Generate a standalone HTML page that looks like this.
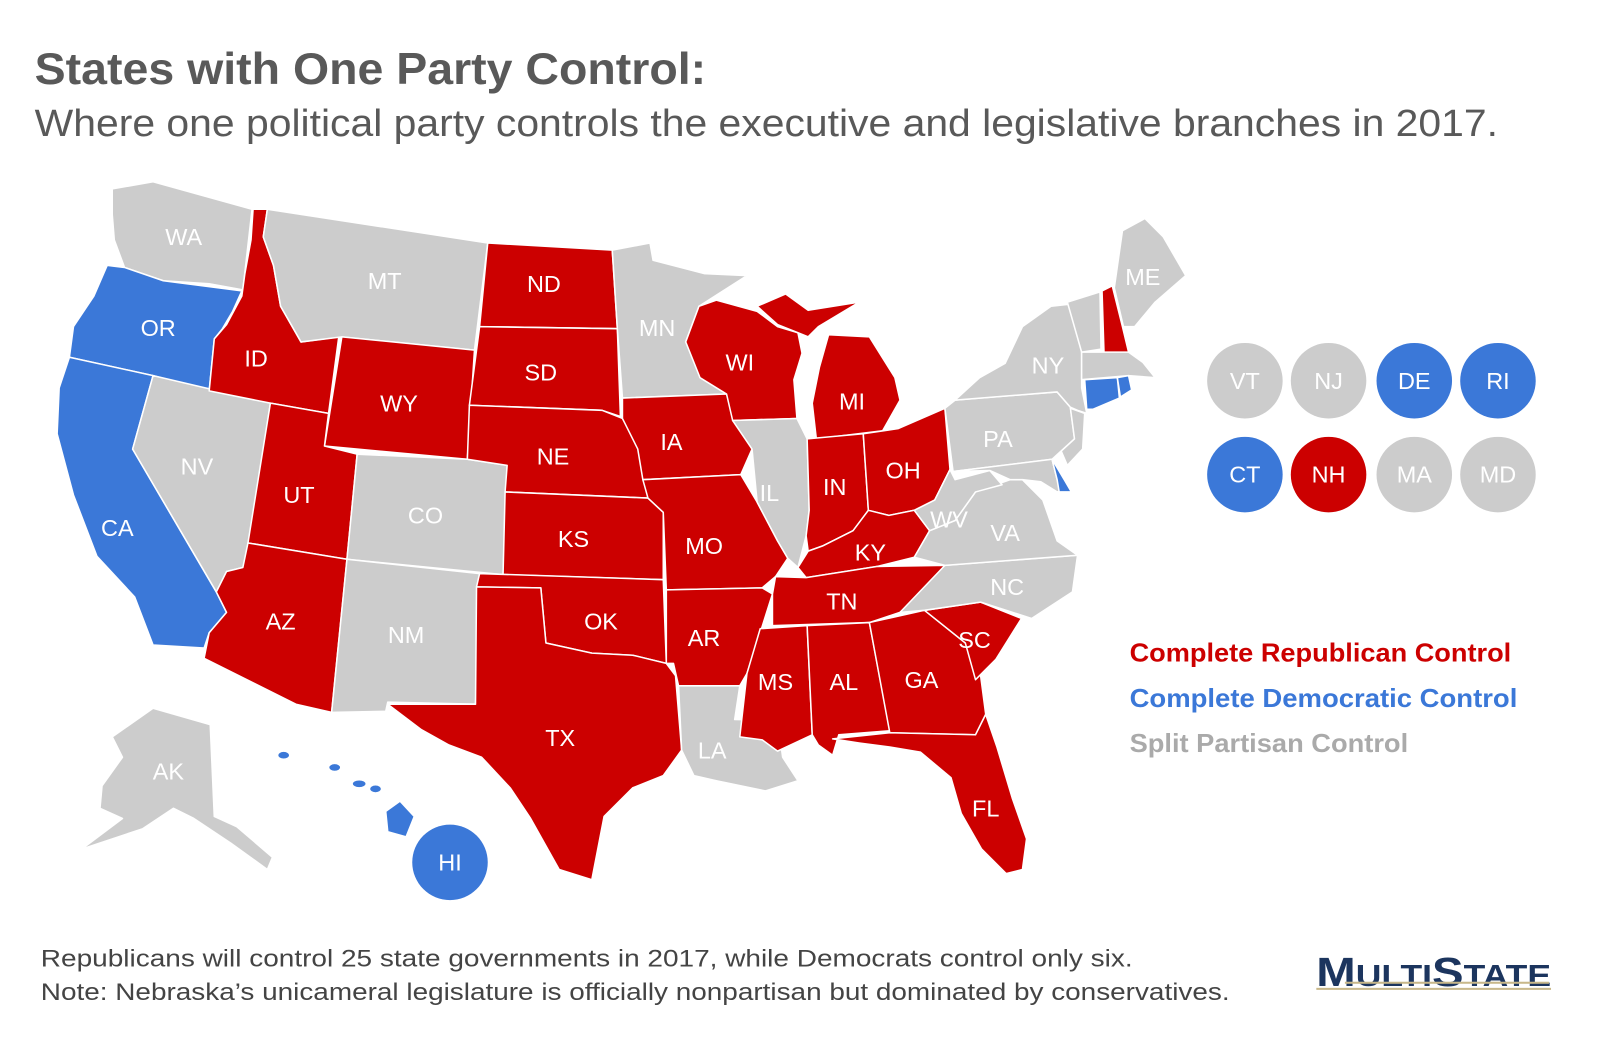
<!DOCTYPE html>
<html><head><meta charset="utf-8">
<style>
html,body{margin:0;padding:0;background:#fff;}
svg{display:block;}
text{font-family:"Liberation Sans",sans-serif;}
</style></head>
<body>
<svg id="map" width="1600" height="1040" viewBox="0 0 1568 1019" xmlns="http://www.w3.org/2000/svg">
<text x="34" y="82" font-size="44" font-weight="bold" fill="#595959" textLength="658" lengthAdjust="spacingAndGlyphs">States with One Party Control:</text>
<text x="34" y="133" font-size="37" fill="#595959" textLength="1434" lengthAdjust="spacingAndGlyphs">Where one political party controls the executive and legislative branches in 2017.</text>
<g id="states" stroke="#fff" stroke-width="1.5" stroke-linejoin="round"></g>
<g id="labels" fill="#fff" font-size="23" text-anchor="middle"></g>
<g id="circles"></g>
<text x="1107" y="648" font-size="25" font-weight="bold" fill="#cc0000" textLength="374" lengthAdjust="spacingAndGlyphs">Complete Republican Control</text>
<text x="1107" y="693" font-size="25" font-weight="bold" fill="#3b78d8" textLength="380" lengthAdjust="spacingAndGlyphs">Complete Democratic Control</text>
<text x="1107" y="737" font-size="25" font-weight="bold" fill="#aaaaaa" textLength="273" lengthAdjust="spacingAndGlyphs">Split Partisan Control</text>
<text x="40" y="947" font-size="24" fill="#444" textLength="1070" lengthAdjust="spacingAndGlyphs">Republicans will control 25 state governments in 2017, while Democrats control only six.</text>
<text x="40" y="980" font-size="24" fill="#444" textLength="1165" lengthAdjust="spacingAndGlyphs">Note: Nebraska’s unicameral legislature is officially nonpartisan but dominated by conservatives.</text>
<g>
<text x="1290" y="966" font-family="Liberation Serif,serif" font-weight="bold" fill="#1c355e" font-size="40" textLength="230" lengthAdjust="spacingAndGlyphs">M<tspan font-size="30">ULTI</tspan>S<tspan font-size="30">TATE</tspan></text>
<rect x="1318" y="962" width="200" height="2" fill="#c8b88a"/>
<rect x="1290" y="968" width="230" height="2" fill="#c8b88a"/>
</g>
</svg>
<script>
const codes=["WA","OR","CA","NV","ID","MT","WY","UT","CO","AZ","NM","ND","SD","NE","KS","OK","TX","MN","IA","MO","AR","LA","WI","IL","MI","IN","OH","KY","TN","MS","AL","GA","FL","SC","NC","VA","WV","PA","NY","NJ","MD","DE","VT","NH","ME","MA","CT","RI","AK","HI"];
const party=["S","D","D","S","R","S","R","R","S","R","S","R","R","R","R","R","R","S","R","R","R","S","R","S","R","R","R","R","R","R","R","R","R","R","S","S","S","S","S","S","S","D","S","R","S","S","D","D","S","D"];
const circleCodes=["VT","NJ","DE","RI","CT","NH","MA","MD"];
const circleParty=["S","S","D","D","D","R","S","S"];
const colors={R:"#cc0000",D:"#3b78d8",S:"#cccccc"};
const shapes={
WA:[[110,185],[150,178],[247,205],[238,284],[205,278],[160,275],[122,262],[112,235],[110,210]],
OR:[[122,262],[160,275],[237,285],[228,305],[218,322],[210,332],[205,383],[150,368],[68,350],[72,320],[92,290],[105,260]],
CA:[[68,350],[150,368],[130,440],[212,580],[222,600],[205,620],[200,635],[150,632],[132,585],[95,545],[72,485],[56,425],[58,380]],
NV:[[150,368],[265,395],[244,538],[238,556],[222,560],[212,580],[130,440]],
ID:[[248,205],[262,205],[258,232],[268,260],[275,300],[295,335],[332,330],[322,405],[265,395],[205,383],[210,332],[222,318],[237,290],[240,268],[246,235]],
MT:[[262,205],[478,238],[465,343],[335,330],[295,335],[275,300],[268,260],[258,232]],
WY:[[335,330],[465,343],[458,450],[318,437]],
UT:[[265,395],[322,405],[318,437],[350,445],[340,548],[243,532]],
CO:[[350,445],[458,450],[497,456],[493,563],[340,548]],
AZ:[[243,532],[340,548],[325,698],[290,690],[200,645],[205,620],[222,600],[212,580],[222,560],[238,556]],
NM:[[340,548],[470,562],[466,690],[380,688],[378,697],[325,698]],
ND:[[478,238],[600,245],[605,322],[470,320]],
SD:[[470,320],[605,322],[608,408],[590,402],[460,397]],
NE:[[460,397],[590,402],[610,410],[625,435],[635,488],[495,482],[497,456],[458,450]],
KS:[[495,482],[635,488],[650,502],[650,568],[493,563]],
OK:[[470,562],[650,568],[653,650],[620,642],[580,640],[535,630],[530,576],[467,575]],
TX:[[467,575],[530,576],[535,630],[580,640],[620,642],[653,650],[662,662],[668,735],[650,760],[620,772],[592,800],[580,862],[548,852],[520,802],[500,772],[472,742],[440,730],[413,715],[380,690],[466,690]],
MN:[[600,245],[637,238],[640,255],[690,268],[732,270],[685,300],[672,335],[682,350],[686,370],[712,386],[610,390],[605,322]],
IA:[[610,390],[712,386],[720,410],[737,440],[726,465],[630,470],[625,440],[610,410]],
MO:[[630,470],[726,465],[742,492],[762,530],[772,547],[760,565],[747,576],[653,578],[650,502],[635,488]],
AR:[[653,578],[747,576],[757,582],[745,620],[732,660],[725,672],[665,672],[660,650],[653,650]],
LA:[[665,672],[725,672],[720,705],[762,706],[767,742],[782,765],[750,775],[702,765],[680,760],[668,735]],
WI:[[685,300],[702,294],[742,305],[762,320],[782,326],[786,346],[778,372],[781,410],[718,412],[712,386],[686,370],[672,335]],
IL:[[718,412],[781,410],[791,430],[793,500],[790,525],[782,556],[772,547],[762,530],[742,492],[737,440]],
MI:[[742,300],[770,288],[792,304],[842,296],[802,320],[792,330],[782,326],[762,318]],
MI2:[[812,328],[852,330],[877,370],[882,392],[865,422],[800,430],[796,395],[803,360]],
IN:[[791,430],[846,425],[851,500],[836,520],[806,535],[792,540],[790,525],[793,500]],
OH:[[846,425],[880,420],[926,400],[931,460],[916,490],[896,500],[871,505],[851,500]],
KY:[[782,556],[792,540],[806,535],[836,520],[851,500],[871,505],[896,500],[911,520],[896,546],[860,555],[790,566]],
TN:[[760,565],[790,566],[860,555],[926,554],[906,580],[882,600],[852,610],[757,613],[757,582]],
MS:[[745,616],[791,613],[796,720],[762,736],[747,725],[725,722],[732,660]],
AL:[[791,613],[852,610],[872,716],[822,720],[816,740],[802,730],[796,720]],
GA:[[852,610],[906,598],[946,630],[961,662],[966,700],[956,720],[872,718]],
FL:[[816,724],[872,718],[956,720],[966,700],[977,732],[992,782],[1006,822],[1002,852],[986,856],[962,832],[942,797],[932,762],[902,737],[872,732],[842,728]],
SC:[[906,598],[961,590],[1001,606],[976,646],[956,666],[946,630]],
NC:[[926,554],[1056,544],[1051,580],[1011,606],[961,590],[906,598],[882,600]],
VA:[[896,546],[911,520],[936,510],[956,482],[990,470],[1002,470],[1022,490],[1036,530],[1056,544],[926,554]],
WV:[[896,500],[916,490],[931,460],[936,470],[970,461],[982,475],[956,482],[936,510],[911,520]],
PA:[[926,400],[936,392],[1036,384],[1049,399],[1053,430],[1031,450],[934,462]],
NY:[[936,392],[960,370],[985,356],[1002,320],[1030,300],[1048,298],[1060,340],[1060,380],[1065,405],[1056,402],[1049,399],[1036,384]],
NJ:[[1049,400],[1063,405],[1061,440],[1046,456],[1040,442],[1053,430]],
MD:[[934,462],[1031,450],[1036,470],[1050,480],[1036,482],[1020,472],[1002,470],[990,470],[970,461]],
DE:[[1031,450],[1043,470],[1050,482],[1038,482],[1036,470]],
VT:[[1046,296],[1078,286],[1079,342],[1060,345]],
NH:[[1080,285],[1090,280],[1100,320],[1106,345],[1082,348]],
ME:[[1092,282],[1100,226],[1122,214],[1140,232],[1162,270],[1132,296],[1112,320],[1101,320]],
MA:[[1060,345],[1106,345],[1120,355],[1132,370],[1106,368],[1060,372]],
CT:[[1063,372],[1095,370],[1097,390],[1071,401],[1065,401]],
RI:[[1095,370],[1106,368],[1109,382],[1098,389]],
AK:[[100,770],[120,742],[110,722],[150,694],[206,710],[210,800],[232,810],[267,840],[262,852],[226,826],[190,802],[170,792],[140,812],[80,832],[120,802],[98,792]],
HI:[[378,795],[392,785],[406,800],[398,820],[380,815]]
};
const labelPos={WA:[180,232],OR:[155,321],CA:[115,517],NV:[193,457],ID:[251,351],MT:[377,275],WY:[391,395],UT:[293,485],CO:[417,505],AZ:[275,609],NM:[398,622],ND:[533,278],SD:[530,365],NE:[542,447],KS:[562,528],OK:[589,609],TX:[549,723],MN:[644,321],IA:[658,433],MO:[690,535],AR:[690,625],LA:[698,735],WI:[725,355],IL:[754,483],MI:[835,393],IN:[818,477],OH:[885,461],KY:[853,541],TN:[825,589],MS:[760,668],AL:[827,668],GA:[903,666],FL:[966,792],SC:[955,627],NC:[987,575],VA:[985,522],WV:[930,509],PA:[978,430],NY:[1027,358],ME:[1120,271],AK:[165,756]};
const circlePos=[[1220,373],[1302,373],[1386,373],[1468,373],[1220,465],[1302,465],[1386,465],[1468,465]];
const NS="http://www.w3.org/2000/svg";
const gS=document.getElementById('states'),gL=document.getElementById('labels'),gC=document.getElementById('circles');
function poly(pts,fill,name){
  const p=document.createElementNS(NS,'polygon');
  p.setAttribute('points',pts.map(a=>a.join(',')).join(' '));
  p.setAttribute('fill',fill);
  
  
  gS.appendChild(p);
}
codes.forEach((c,i)=>{
  const col=colors[party[i]];
  poly(shapes[c],col,'state-'+c.toLowerCase());
  if(c==='MI') poly(shapes.MI2,col,'state-mi-lower');
  if(labelPos[c]){
    const t=document.createElementNS(NS,'text');
    t.setAttribute('x',labelPos[c][0]);t.setAttribute('y',labelPos[c][1]+8);
    t.textContent=c;
    
    
    gL.appendChild(t);
  }
});
[[278,740,6,4],[328,752,6,4],[352,768,7,4],[368,773,6,4]].forEach((e,i)=>{
  const el=document.createElementNS(NS,'ellipse');
  el.setAttribute('cx',e[0]);el.setAttribute('cy',e[1]);el.setAttribute('rx',e[2]);el.setAttribute('ry',e[3]);
  el.setAttribute('fill',colors.D);
  
  
  gS.appendChild(el);
});
function circ(x,y,code,p){
  const c=document.createElementNS(NS,'circle');
  c.setAttribute('cx',x);c.setAttribute('cy',y);c.setAttribute('r',37);c.setAttribute('fill',colors[p]);
  
  
  gC.appendChild(c);
  const t=document.createElementNS(NS,'text');
  t.setAttribute('x',x);t.setAttribute('y',y+8);t.setAttribute('fill','#fff');t.setAttribute('font-size','23');t.setAttribute('text-anchor','middle');
  t.textContent=code;
  
  
  gC.appendChild(t);
}
circ(441,845,'HI','D');
circleCodes.forEach((c,i)=>circ(circlePos[i][0],circlePos[i][1],c,circleParty[i]));
</script>
</body></html>
